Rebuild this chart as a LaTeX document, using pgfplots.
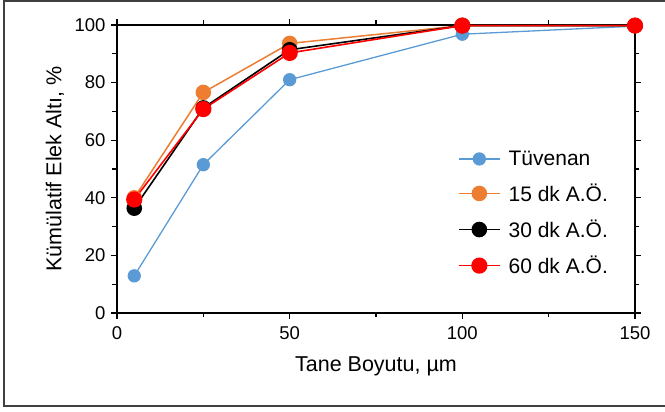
\documentclass[border=0pt]{standalone}
\usepackage{pgfplots}
\pgfplotsset{compat=1.18}
\usepackage{fontspec}
\setmainfont{Liberation Sans}
\definecolor{cblue}{HTML}{5B9BD5}
\definecolor{corange}{HTML}{ED7D31}
\definecolor{cred}{HTML}{FF0000}
\begin{document}
\begin{tikzpicture}
\useasboundingbox (-117pt,-99pt) rectangle (548pt,313pt);
\draw[line width=1.4pt, black!75] (548pt,312pt) -- (-113pt,312pt) -- (-113pt,-93pt) -- (548pt,-93pt);
\begin{axis}[
  at={(0pt,0pt)}, anchor=south west,
  scale only axis, width=518pt, height=288pt,
  xmin=0, xmax=150, ymin=0, ymax=100,
  xtick={0,50,100,150}, minor xtick={25,75,125},
  ytick={0,20,40,60,80,100}, minor ytick={10,30,50,70,90},
  tick align=outside,
  major tick length=6pt, minor tick length=4.5pt,
  tick style={black, line width=1.2pt},
  axis line style={black, line width=1.6pt},
  /pgf/number format/assume math mode=true,
  ticklabel style={font=\fontsize{18.5}{22}\selectfont},
  xticklabel style={yshift=-4pt},
  yticklabel style={xshift=-2pt},
  xlabel={Tane Boyutu, µm},
  ylabel={Kümülatif Elek Altı, \%},
  label style={font=\fontsize{21.5}{25}\selectfont},
  xlabel style={at={(axis description cs:0.5,-0.1840)}, anchor=center},
  ylabel style={at={(axis description cs:-0.1197,0.5)}, anchor=center, rotate=0},
  clip=false,
  legend cell align=left,
  legend style={at={(0.658,0.347)}, anchor=west, draw=none, fill=none,
    font=\fontsize{21}{25}\selectfont, row sep=13pt, inner sep=0pt,
    /tikz/every even column/.append style={column sep=0pt}},
  legend image code/.code={\draw[#1,mark repeat=2,mark phase=2] plot coordinates {(0pt,0pt)(20.5pt,0pt)(41pt,0pt)};},
]
\addplot[color=cblue, line width=1.3pt, mark=*, mark size=6pt, mark options={fill=cblue, draw=cblue}]
  coordinates {(5,12.9) (25,51.5) (50,81.0) (100,96.8) (150,99.6)};
\addlegendentry{\hspace{6pt}Tüvenan}
\addplot[color=corange, line width=1.5pt, mark=*, mark size=7pt, mark options={fill=corange, draw=corange}]
  coordinates {(5,40.0) (25,76.6) (50,93.6) (100,99.8) (150,99.8)};
\addlegendentry{\hspace{6pt}15 dk A.Ö.}
\addplot[color=black, line width=1.6pt, mark=*, mark size=7pt, mark options={fill=black, draw=black}]
  coordinates {(5,36.4) (25,71.2) (50,91.4) (100,99.8) (150,99.8)};
\addlegendentry{\hspace{6pt}30 dk A.Ö.}
\addplot[color=cred, line width=1.6pt, mark=*, mark size=7.3pt, mark options={fill=cred, draw=cred}]
  coordinates {(5,39.4) (25,70.8) (50,90.3) (100,99.8) (150,99.8)};
\addlegendentry{\hspace{6pt}60 dk A.Ö.}
\end{axis}
\end{tikzpicture}
\end{document}
